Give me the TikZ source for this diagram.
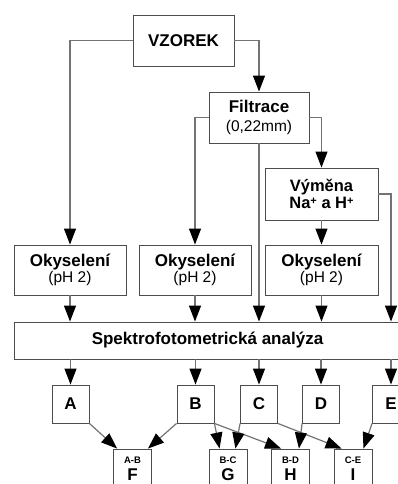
\documentclass[tikz,border=0pt]{standalone}
\usepackage{fontspec}
\setmainfont{Liberation Sans}
\usetikzlibrary{arrows.meta}
\tikzset{
  box/.style={draw=black!70, line width=0.9pt, fill=white, inner sep=0pt, align=center,
    font=\fontsize{17}{16}\selectfont\bfseries},
  flow/.style={draw=black!55, line width=1.2pt, -{Triangle[width=12pt,length=16pt,color=black]}},
  link/.style={draw=black!55, line width=1.2pt}
}
\newcommand{\note}[1]{{\fontsize{15.5}{15}\selectfont\mdseries #1}}
\newcommand{\pair}[2]{{\fontsize{9.5}{9}\selectfont #1}\\[1pt]#2}
\newcommand{\ion}{\raisebox{4pt}{\fontsize{11}{11}\selectfont+}}
\begin{document}
\begin{tikzpicture}[x=1pt,y=-1pt]
    \path[use as bounding box, clip] (0,0) rectangle (398,484);
    % Preparation
    \node[box, minimum width=101pt, minimum height=51pt] (vzorek) at (183.5,40.5) {VZOREK};
    \node[box, minimum width=100pt, minimum height=51pt] (filtr) at (259,117.5) {Filtrace\\[3pt]\note{(0,22mm)}};
    \node[box, minimum width=113pt, minimum height=52pt, font=\fontsize{16.5}{17}\selectfont\bfseries]
        (vymena) at (321.5,194) {Výměna\\Na\ion{} a H\ion};
    % Acidification
    \node[box, minimum width=112pt, minimum height=50pt] (oky1) at (70,270) {Okyselení\\\note{(pH 2)}};
    \node[box, minimum width=112pt, minimum height=50pt] (oky2) at (195,270) {Okyselení\\\note{(pH 2)}};
    \node[box, minimum width=113pt, minimum height=50pt] (oky3) at (321.5,270) {Okyselení\\\note{(pH 2)}};
    % Analysis
    \node[box, minimum width=387pt, minimum height=37pt] (spektro) at (207.5,340.5) {Spektrofotometrická analýza};
    % Results
    \foreach \n/\x in {A/70.5, B/195.5, C/259, D/321, E/391}
        \node[box, minimum width=37pt, minimum height=38pt] (\n) at (\x,404) {\n};
    \foreach \n/\t/\x in {F/A-B/132.5, G/B-C/228, H/B-D/290.5, I/C-E/353}
        \node[box, minimum width=38pt, minimum height=40pt] (\n) at (\x,469) {\pair{\t}{\n}};
    % Connectors
    \draw[flow] (vzorek.west) -| (oky1.north);
    \draw[flow] (vzorek.east) -| (filtr.north);
    \draw[flow] (filtr.west) -| (oky2.north);
    \draw[flow] (filtr.east) -| (vymena.north);
    \draw[flow] (filtr.south) -- (filtr.south |- spektro.north);
    \draw[flow] (vymena.south) -- (oky3.north);
    \draw[flow] (vymena.east) -| (spektro.north -| E.north);
    \foreach \o in {oky1, oky2, oky3}
        \draw[flow] (\o.south) -- (\o.south |- spektro.north);
    \foreach \n in {A, B, C, D, E}
        \draw[flow] (\n.north |- spektro.south) -- (\n.north);
    % Pairs
    \draw[flow] (A.south east) -- ([xshift=4pt]F.north west);
    \draw[flow] (B.south west) -- ([xshift=-4pt]F.north east);
    \draw[flow] (B.south east) -- ([xshift=11pt]G.north west);
    \draw[flow] (B.south east) -- ([xshift=10pt]H.north west);
    \draw[flow] (C.south west) -- ([xshift=-12pt]G.north east);
    \draw[flow] (C.south east) -- ([xshift=8pt]I.north west);
    \draw[flow] (D.south west) -- ([xshift=-11pt]H.north east);
    \draw[flow] (E.south west) -- ([xshift=-9pt]I.north east);
\end{tikzpicture}
\end{document}
